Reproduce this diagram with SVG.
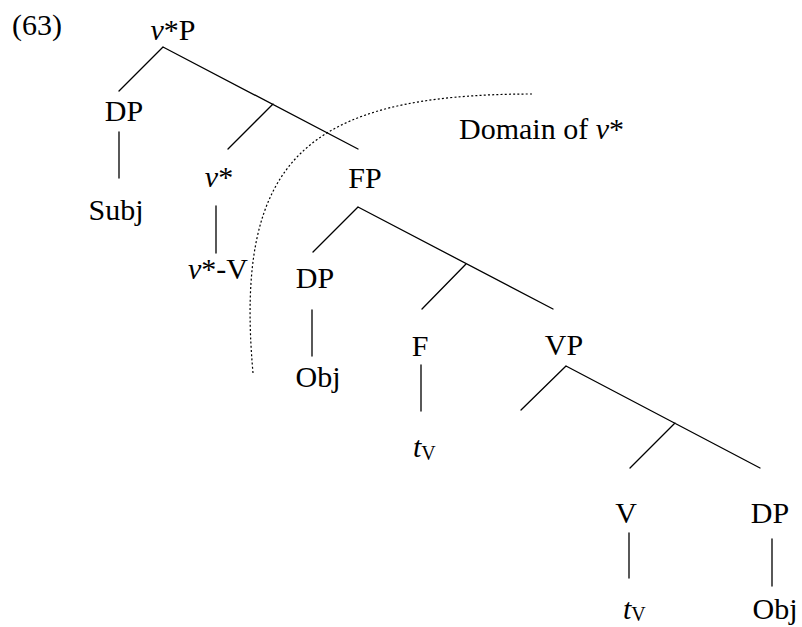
<svg xmlns="http://www.w3.org/2000/svg" width="802" height="627" viewBox="0 0 802 627">
<style>
text{font-family:"Liberation Serif","Times New Roman",serif;font-size:30px;fill:#000}
.m{text-anchor:middle}
.i{font-style:italic}
.sub{font-size:20px}
.e{stroke:#000;stroke-width:1.3;fill:none;stroke-linecap:round}
.dot{stroke:#000;stroke-width:1.2;fill:none;stroke-dasharray:2 2.2}
</style>
<rect width="802" height="627" fill="#fff"/>
<text x="12" y="35">(63)</text>
<g id="connectors">
<path class="e" d="M163,47 L119,91 M163,47 L358,149 M273,104 L228,149"/>
<path class="e" d="M119,132 L119,178 M216,206 L216,253"/>
<path class="e" d="M358,207 L313,252 M358,207 L553,309 M466,264 L422,309"/>
<path class="e" d="M312,310 L312,356 M421,365 L421,411"/>
<path class="e" d="M566,366 L521,410 M566,366 L760,468 M675,423 L630,468"/>
<path class="e" d="M629,533 L629,578 M772,539 L772,586"/>
</g>
<path id="domain-boundary" class="dot" d="M253,373 C234,160 305,94 533,94"/>
<g id="vP"><text class="m" x="173" y="40"><tspan class="i">v</tspan>*P</text></g>
<g id="DP1"><text class="m" x="124" y="121">DP</text></g>
<g id="Subj"><text class="m" x="116" y="220">Subj</text></g>
<g id="v"><text class="m" x="219" y="187"><tspan class="i">v</tspan>*</text></g>
<g id="vV"><text class="m" x="218" y="279"><tspan class="i">v</tspan>*-V</text></g>
<g id="FP"><text class="m" x="365" y="188">FP</text></g>
<g id="domain"><text x="459" y="139">Domain of <tspan class="i">v</tspan>*</text></g>
<g id="DP2"><text class="m" x="315" y="288">DP</text></g>
<g id="Obj1"><text class="m" x="318" y="387">Obj</text></g>
<g id="F"><text class="m" x="420" y="356">F</text></g>
<g id="VP"><text class="m" x="564" y="355">VP</text></g>
<g id="tV1"><text x="413" y="457"><tspan class="i">t</tspan><tspan class="sub" dy="3">V</tspan></text></g>
<g id="V"><text class="m" x="626" y="523">V</text></g>
<g id="DP3"><text class="m" x="770" y="523">DP</text></g>
<g id="tV2"><text x="623" y="619"><tspan class="i">t</tspan><tspan class="sub" dy="2">V</tspan></text></g>
<g id="Obj2"><text class="m" x="775" y="619">Obj</text></g>
</svg>
